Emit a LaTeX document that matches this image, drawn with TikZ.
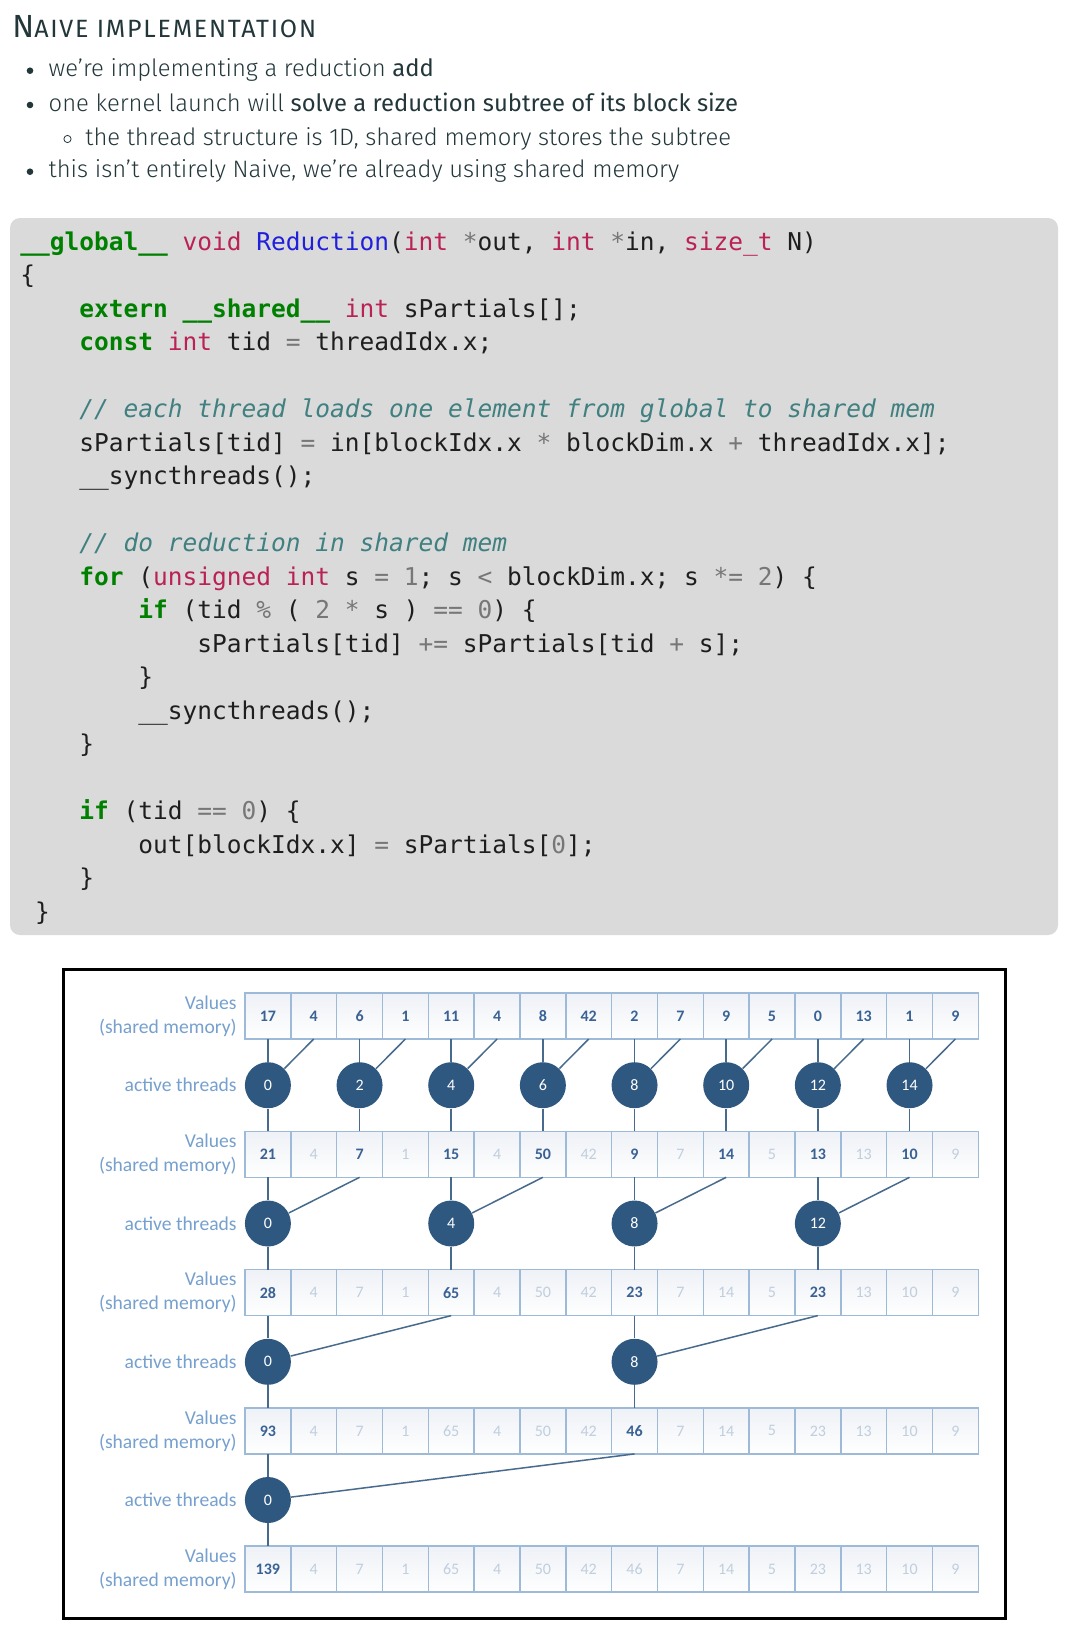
\documentclass[tikz,border=0pt]{standalone}
\usepackage{fontspec}
\setmainfont{Fira Sans}[UprightFont={* Light},BoldFont={*}]
\setmonofont{DejaVu Sans Mono}
\newfontfamily\diagFont{Carlito}
\usepackage{xcolor}
\usepackage{tikz}

\definecolor{slideText}{RGB}{35,55,59}
\definecolor{codeBack}{RGB}{218,218,218}
\definecolor{codeGreen}{RGB}{0,128,0}
\definecolor{codeType}{RGB}{186,33,85}
\definecolor{codeBlue}{RGB}{32,32,220}
\definecolor{codeComment}{RGB}{64,128,128}
\definecolor{codeOp}{RGB}{119,119,119}
\definecolor{codePlain}{RGB}{30,30,30}
\definecolor{cellLine}{RGB}{157,187,216}
\definecolor{cellTint}{RGB}{238,241,246}
\definecolor{valueOn}{RGB}{58,98,148}
\definecolor{valueOff}{RGB}{192,206,222}
\definecolor{threadFill}{RGB}{47,88,128}
\definecolor{linkColor}{RGB}{72,106,140}
\definecolor{labelBlue}{RGB}{118,160,206}

\newcommand{\cKw}[1]{\textcolor{codeGreen}{\bfseries #1}}
\newcommand{\cTy}[1]{\textcolor{codeType}{#1}}
\newcommand{\cFn}[1]{\textcolor{codeBlue}{#1}}
\newcommand{\cOp}[1]{\textcolor{codeOp}{#1}}
\newcommand{\cCm}[1]{\textcolor{codeComment}{\itshape #1}}

\begin{document}
\begin{tikzpicture}[
        titleText/.style = { anchor = base west, inner sep = 0pt, text = slideText, font = \bfseries\fontsize{12.5}{14}\selectfont },
        slideLine/.style = { anchor = base west, inner sep = 0pt, text = slideText, font = \fontsize{11.9}{14}\selectfont },
        bulletDot/.style = { circle, fill = slideText, minimum size = 3.3pt, inner sep = 0pt },
        subBullet/.style = { circle, draw = slideText, line width = 0.4pt, minimum size = 3.6pt, inner sep = 0pt },
        codeLine/.style = { anchor = base west, inner sep = 0pt, text = codePlain, font = \ttfamily\fontsize{12.25}{14}\selectfont },
        cellBox/.style = { rectangle, draw = cellLine, line width = 0.75pt, top color = cellTint, bottom color = white, minimum width = 22.9pt, minimum height = 23pt, inner sep = 0pt, outer sep = 0pt, font = \diagFont\bfseries\fontsize{8}{9}\selectfont },
        cellOn/.style = { text = valueOn },
        cellOff/.style = { text = valueOff, font = \diagFont\fontsize{8}{9}\selectfont },
        threadDot/.style = { circle, fill = threadFill, text = white, minimum size = 23pt, inner sep = 0pt, font = \diagFont\fontsize{8}{9}\selectfont },
        rowLabel/.style = { anchor = east, align = right, inner sep = 0pt, text = labelBlue, font = \diagFont\fontsize{9.8}{12}\selectfont },
        link/.style = { draw = linkColor, line width = 0.75pt },
                    ]
        \def\onePx{0.5pt}

        \useasboundingbox (0,0) rectangle (1069*\onePx,-1638*\onePx);
        \fill[white] (0,0) rectangle (1069*\onePx,-1638*\onePx);

        % title and bullets
        \node[titleText] (title) at (12*\onePx,-37.3*\onePx) {{\fontsize{16}{18}\selectfont N}{\addfontfeature{LetterSpace=7}AIVE IMPLEMENTATION}};

        \node[bulletDot] (dotA) at (30*\onePx,-70.7*\onePx) {};
        \node[slideLine] (lineA) at (48.3*\onePx,-76.7*\onePx) {we’re implementing a reduction \textbf{add}};
        \node[bulletDot] (dotB) at (30*\onePx,-105*\onePx) {};
        \node[slideLine] (lineB) at (48.3*\onePx,-111*\onePx) {one kernel launch will \textbf{solve a reduction subtree of its block size}};
        \node[subBullet] (dotC) at (67.5*\onePx,-139*\onePx) {};
        \node[slideLine] (lineC) at (85*\onePx,-145*\onePx) {the thread structure is 1D, shared memory stores the subtree};
        \node[bulletDot] (dotD) at (30*\onePx,-171.7*\onePx) {};
        \node[slideLine] (lineD) at (48.3*\onePx,-177.7*\onePx) {this isn’t entirely Naive, we’re already using shared memory};

        % code listing
        \fill[codeBack, rounded corners = 5pt] (10*\onePx,-218*\onePx) rectangle (1058*\onePx,-935*\onePx);

        \node[codeLine] (code0) at (20*\onePx,-250*\onePx) {\cKw{\_\_global\_\_} \cTy{void} \cFn{Reduction}(\cTy{int} \cOp{*}out, \cTy{int} \cOp{*}in, \cTy{size\_t} N)};
        \node[codeLine] (code1) at (20*\onePx,-283.5*\onePx) {\{};
        \node[codeLine] (code2) at (79*\onePx,-317*\onePx) {\cKw{extern} \cKw{\_\_shared\_\_} \cTy{int} sPartials[];};
        \node[codeLine] (code3) at (79*\onePx,-350.5*\onePx) {\cKw{const} \cTy{int} tid \cOp{=} threadIdx.x;};

        \node[codeLine] (code5) at (79*\onePx,-417.5*\onePx) {\cCm{// each thread loads one element from global to shared mem}};
        \node[codeLine] (code6) at (79*\onePx,-451*\onePx) {sPartials[tid] \cOp{=} in[blockIdx.x \cOp{*} blockDim.x \cOp{+} threadIdx.x];};
        \node[codeLine] (code7) at (79*\onePx,-484.5*\onePx) {\_\_syncthreads();};

        \node[codeLine] (code9) at (79*\onePx,-551.5*\onePx) {\cCm{// do reduction in shared mem}};
        \node[codeLine] (code10) at (79*\onePx,-585*\onePx) {\cKw{for} (\cTy{unsigned} \cTy{int} s \cOp{=} \cOp{1}; s \cOp{<} blockDim.x; s \cOp{*=} \cOp{2}) \{};
        \node[codeLine] (code11) at (138*\onePx,-618.5*\onePx) {\cKw{if} (tid \cOp{\%} ( \cOp{2} \cOp{*} s ) \cOp{==} \cOp{0}) \{};
        \node[codeLine] (code12) at (197*\onePx,-652*\onePx) {sPartials[tid] \cOp{+=} sPartials[tid \cOp{+} s];};
        \node[codeLine] (code13) at (138*\onePx,-685.5*\onePx) {\}};
        \node[codeLine] (code14) at (138*\onePx,-719*\onePx) {\_\_syncthreads();};
        \node[codeLine] (code15) at (79*\onePx,-752.5*\onePx) {\}};

        \node[codeLine] (code17) at (79*\onePx,-819.5*\onePx) {\cKw{if} (tid \cOp{==} \cOp{0}) \{};
        \node[codeLine] (code18) at (138*\onePx,-853*\onePx) {out[blockIdx.x] \cOp{=} sPartials[\cOp{0}];};
        \node[codeLine] (code19) at (79*\onePx,-886.5*\onePx) {\}};
        \node[codeLine] (code20) at (34.75*\onePx,-920*\onePx) {\}};

        % reduction diagram
        \draw[line width = 1.5pt] (63*\onePx,-969*\onePx) rectangle (1005*\onePx,-1618*\onePx);

        \foreach \val/\state [count=\i from 0] in {17/cellOn,4/cellOn,6/cellOn,1/cellOn,11/cellOn,4/cellOn,8/cellOn,42/cellOn,2/cellOn,7/cellOn,9/cellOn,5/cellOn,0/cellOn,13/cellOn,1/cellOn,9/cellOn}
            \node[cellBox, \state] (v1-\i) at ({(267.9+45.83*\i)*\onePx},-1016*\onePx) {\val};
        \foreach \val/\state [count=\i from 0] in {21/cellOn,4/cellOff,7/cellOn,1/cellOff,15/cellOn,4/cellOff,50/cellOn,42/cellOff,9/cellOn,7/cellOff,14/cellOn,5/cellOff,13/cellOn,13/cellOff,10/cellOn,9/cellOff}
            \node[cellBox, \state] (v2-\i) at ({(267.9+45.83*\i)*\onePx},-1154.3*\onePx) {\val};
        \foreach \val/\state [count=\i from 0] in {28/cellOn,4/cellOff,7/cellOff,1/cellOff,65/cellOn,4/cellOff,50/cellOff,42/cellOff,23/cellOn,7/cellOff,14/cellOff,5/cellOff,23/cellOn,13/cellOff,10/cellOff,9/cellOff}
            \node[cellBox, \state] (v3-\i) at ({(267.9+45.83*\i)*\onePx},-1292.6*\onePx) {\val};
        \foreach \val/\state [count=\i from 0] in {93/cellOn,4/cellOff,7/cellOff,1/cellOff,65/cellOff,4/cellOff,50/cellOff,42/cellOff,46/cellOn,7/cellOff,14/cellOff,5/cellOff,23/cellOff,13/cellOff,10/cellOff,9/cellOff}
            \node[cellBox, \state] (v4-\i) at ({(267.9+45.83*\i)*\onePx},-1430.9*\onePx) {\val};
        \foreach \val/\state [count=\i from 0] in {139/cellOn,4/cellOff,7/cellOff,1/cellOff,65/cellOff,4/cellOff,50/cellOff,42/cellOff,46/cellOff,7/cellOff,14/cellOff,5/cellOff,23/cellOff,13/cellOff,10/cellOff,9/cellOff}
            \node[cellBox, \state] (v5-\i) at ({(267.9+45.83*\i)*\onePx},-1569.2*\onePx) {\val};

        \foreach \k in {0,2,...,14}
            \node[threadDot] (t1-\k) at ({(267.9+45.83*\k)*\onePx},-1085.2*\onePx) {\k};
        \foreach \k in {0,4,8,12}
            \node[threadDot] (t2-\k) at ({(267.9+45.83*\k)*\onePx},-1223.5*\onePx) {\k};
        \foreach \k in {0,8}
            \node[threadDot] (t3-\k) at ({(267.9+45.83*\k)*\onePx},-1361.8*\onePx) {\k};
        \node[threadDot] (t4-0) at (267.9*\onePx,-1500*\onePx) {0};

        \node[rowLabel] (lab1) at (237*\onePx,-1016*\onePx) {Values\\(shared memory)};
        \node[rowLabel] (act1) at (237*\onePx,-1085.2*\onePx) {active threads};
        \node[rowLabel] (lab2) at (237*\onePx,-1154.3*\onePx) {Values\\(shared memory)};
        \node[rowLabel] (act2) at (237*\onePx,-1223.5*\onePx) {active threads};
        \node[rowLabel] (lab3) at (237*\onePx,-1292.6*\onePx) {Values\\(shared memory)};
        \node[rowLabel] (act3) at (237*\onePx,-1361.8*\onePx) {active threads};
        \node[rowLabel] (lab4) at (237*\onePx,-1430.9*\onePx) {Values\\(shared memory)};
        \node[rowLabel] (act4) at (237*\onePx,-1500*\onePx) {active threads};
        \node[rowLabel] (lab5) at (237*\onePx,-1569.2*\onePx) {Values\\(shared memory)};

        % each thread adds its neighbour at stride s
        \foreach \k in {0,2,...,14} {
            \pgfmathtruncatemacro\m{\k+1}
            \draw[link] (v1-\k) -- (t1-\k) -- (v2-\k);
            \draw[link] (v1-\m.south) -- (t1-\k);
        }
        \foreach \k in {0,4,8,12} {
            \pgfmathtruncatemacro\m{\k+2}
            \draw[link] (v2-\k) -- (t2-\k) -- (v3-\k);
            \draw[link] (v2-\m.south) -- (t2-\k);
        }
        \foreach \k in {0,8} {
            \pgfmathtruncatemacro\m{\k+4}
            \draw[link] (v3-\k) -- (t3-\k) -- (v4-\k);
            \draw[link] (v3-\m.south) -- (t3-\k);
        }
        \draw[link] (v4-0) -- (t4-0) -- (v5-0);
        \draw[link] (v4-8.south) -- (t4-0);
\end{tikzpicture}
\end{document}
